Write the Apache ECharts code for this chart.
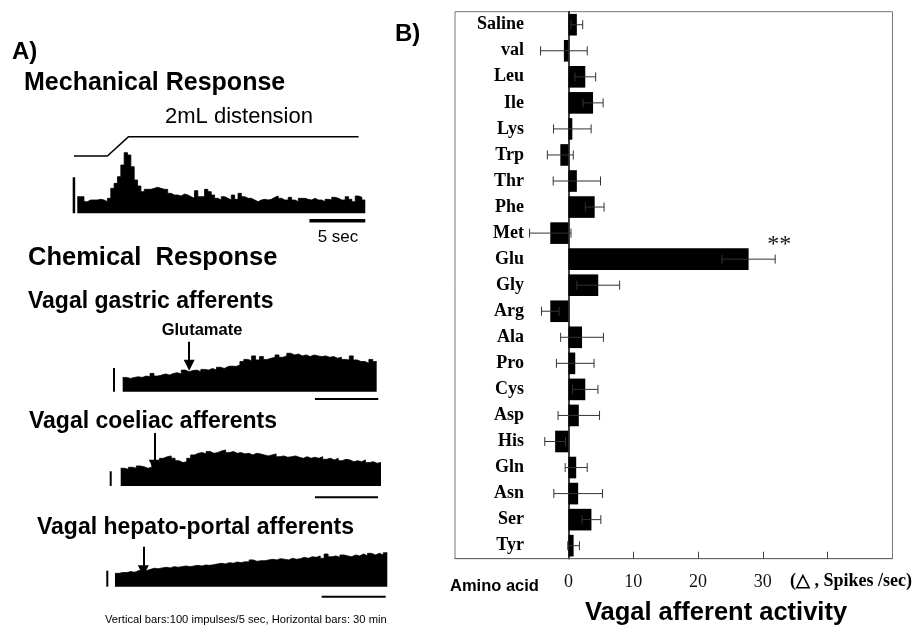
<!DOCTYPE html>
<html><head><meta charset="utf-8">
<script src="https://cdn.jsdelivr.net/npm/echarts@6/dist/echarts.min.js"></script>
<style>html,body{margin:0;padding:0;background:#fff}#c{width:920px;height:628px}</style>
</head><body><div id="c"></div><script>
// ---------- Panel B data ----------
const aminoAcids = ['Saline','val','Leu','Ile','Lys','Trp','Thr','Phe','Met','Glu','Gly','Arg','Ala','Pro','Cys','Asp','His','Gln','Asn','Ser','Tyr'];
const activityMean = [1.3,-0.7,2.6,3.8,0.6,-1.25,1.3,4.05,-2.8,27.8,4.6,-2.8,2.1,1.05,2.6,1.6,-2.05,1.2,1.5,3.55,0.8];
const activitySem  = [0.9,3.6,1.6,1.55,2.9,2.0,3.65,1.45,3.2,4.1,3.3,1.35,3.3,2.9,1.95,3.2,1.6,1.7,3.75,1.45,0.9];
const significance = ['','','','','','','','','','**','','','','','','','','','','',''];
const xTickValues = [10,20,30,40];
const xLabelValues = [0,10,20,30];

// ---------- Panel A data ----------
const mechBinSec = 0.3;
const mechCounts = [50,50,35,40,40,40,42,40,35,45,75,90,110,145,182,175,140,100,82,65,72,72,75,78,75,72,72,60,55,55,52,58,55,50,45,68,50,50,72,65,55,45,40,50,45,40,55,42,60,50,45,45,40,35,40,42,40,42,48,52,45,40,40,48,40,35,45,45,42,40,45,40,40,35,42,40,48,45,40,40,50,42,35,52,48,40];
const mechScaleCounts = 108;
const stimTime = [-0.3, 2.7, 4.6, 25.2];
const stimVolume = [0, 0, 2, 2];

const chemDtMin = 1.85;
const gastric = [60,56,60,63,60,66,63,77,66,70,75,70,77,80,75,91,84,89,91,84,94,91,98,91,103,98,106,108,106,113,127,136,131,151,134,148,136,141,145,155,145,151,162,155,159,151,155,148,155,151,148,151,145,148,141,145,136,134,151,134,127,127,120,136,127];
const coeliac = [120,113,127,120,136,131,120,127,150,165,188,199,204,188,172,159,165,188,211,222,227,218,234,222,227,238,245,227,234,222,227,218,222,211,222,218,211,204,211,218,199,204,195,199,204,195,188,199,188,195,188,199,181,188,177,188,172,181,177,165,172,165,177,159,165,154,160];
const hepato = [83,88,88,94,90,100,104,100,108,115,112,117,121,117,125,121,125,129,125,129,133,129,135,133,137,142,146,142,150,146,154,150,156,154,167,158,162,162,167,171,167,175,171,167,177,171,175,183,177,187,183,192,177,204,187,192,183,198,192,187,198,192,204,192,208,198,208,198,212];
const chemTraces = [gastric, coeliac, hepato];
const chemScaleImpulses = 100;      // vertical bars: 100 impulses / 5 sec
const chemScaleMinutes = 30;        // horizontal bars: 30 min
const chemVBarTime = [-4.1, -4.76, -3.6];
const chemHBarStart = [91.0, 92.5, 96.9];
const chemHBarLevel = [-31, -77, -62.5];
const chemArrowTime = [31.5, 16.0, 13.3];
const chemArrowFrom = [211, 360, 250];
const chemArrowTo = [112, 140, 100];

const SANS = '"Liberation Sans", Arial, Helvetica, sans-serif';
const SERIF = '"Liberation Serif", "Times New Roman", serif';

const chart = echarts.init(document.getElementById('c'), null, {renderer:'canvas'});

function stepData(vals, dt) {
  const d = vals.map((v, i) => [i * dt, v]);
  d.push([vals.length * dt, vals[vals.length - 1]]);
  return d;
}
function lineS(x, y, data, width) {
  return {type:'line', xAxisIndex:x, yAxisIndex:y, data, symbol:'none', silent:true,
    lineStyle:{color:'#000', width}, z:3};
}

const grids = [
  {left:71.7, top:130, width:295.8, height:95},
  {left:110.0, top:335, width:274.6, height:70},
  {left:106.0, top:428, width:279.3, height:74},
  {left:104.3, top:540, width:288.0, height:62},
  {left:455, top:11.7, width:437.5, height:547, show:true, borderColor:'#777', borderWidth:1}
];
const hid = {show:false};
const xAxes = [
  {gridIndex:0, type:'value', min:-0.5, max:26, show:false},
  {gridIndex:1, type:'value', min:-6, max:124, show:false},
  {gridIndex:2, type:'value', min:-7, max:126, show:false},
  {gridIndex:3, type:'value', min:-5, max:130, show:false},
  {gridIndex:4, type:'value', min:-17.5, max:50, splitLine:hid,
    axisLine:{show:true, onZero:false, lineStyle:{color:'#666', width:1}},
    axisTick:{show:true, inside:true, length:7, customValues:xTickValues, lineStyle:{color:'#444', width:1}},
    axisLabel:{customValues:xLabelValues, margin:15, fontFamily:SERIF, fontSize:18, color:'#111'}}
];
const yAxes = [
  {gridIndex:0, type:'value', min:-35, max:250, show:false},
  {gridIndex:0, type:'value', min:-7.15, max:2.69, show:false},
  {gridIndex:1, type:'value', min:-56, max:239, show:false},
  {gridIndex:2, type:'value', min:-109, max:394, show:false},
  {gridIndex:3, type:'value', min:-96, max:291.5, show:false},
  {gridIndex:4, type:'category', data:aminoAcids, inverse:true,
    axisLine:{show:true, onZero:true, lineStyle:{color:'#000', width:1.5}},
    axisTick:{show:false}, splitLine:hid,
    axisLabel:{margin:-69, fontFamily:SERIF, fontWeight:'bold', fontSize:18, color:'#000'}}
];

const series = [];
// Mechanical histogram
series.push({type:'line', xAxisIndex:0, yAxisIndex:0, step:'end', symbol:'none', silent:true,
  data:stepData(mechCounts, mechBinSec), lineStyle:{color:'#000', width:0.8}, areaStyle:{color:'#000', opacity:1}});
series.push(lineS(0,0,[[-0.3,0],[-0.3,mechScaleCounts]],2.5));
series.push(lineS(0,0,[[20.8,-22],[20.8+5,-22]],3.5));
series.push(lineS(0,1,stimTime.map((t,i)=>[t, stimVolume[i]]),1.5));

// Chemical traces
chemTraces.forEach((vals, k) => {
  const g = k + 1;
  series.push({type:'line', xAxisIndex:g, yAxisIndex:g+1, step:'end', symbol:'none', silent:true,
    data:stepData(vals, chemDtMin), lineStyle:{color:'#000', width:0.8}, areaStyle:{color:'#000', opacity:1},
    markLine:{silent:true, symbol:['none','triangle'], symbolSize:11, animation:false,
      lineStyle:{color:'#000', width:2, type:'solid'}, label:{show:false},
      data:[[{coord:[chemArrowTime[k], chemArrowFrom[k]]},{coord:[chemArrowTime[k], chemArrowTo[k]]}]]}});
  series.push(lineS(g, g+1, [[chemVBarTime[k],0],[chemVBarTime[k],chemScaleImpulses]], 2));
  series.push(lineS(g, g+1, [[chemHBarStart[k],chemHBarLevel[k]],[chemHBarStart[k]+chemScaleMinutes,chemHBarLevel[k]]], 2));
});

// Panel B bars
series.push({type:'bar', xAxisIndex:4, yAxisIndex:5, data:activityMean, barWidth:'83%',
  itemStyle:{color:'#000'}, silent:true, z:2});
series.push({type:'custom', xAxisIndex:4, yAxisIndex:5, silent:true, z:4,
  data:activityMean.map((v,i)=>[i, v, activitySem[i]]),
  encode:{x:1, y:0},
  renderItem:(params, api) => {
    const cat = api.value(0), v = api.value(1), e = api.value(2);
    const a = api.coord([v - e, cat]);
    const b = api.coord([v + e, cat]);
    const st = {stroke:'#333', lineWidth:1};
    const h = 4.5;
    const children = [
      {type:'line', shape:{x1:a[0], y1:a[1], x2:b[0], y2:b[1]}, style:st},
      {type:'line', shape:{x1:a[0], y1:a[1]-h, x2:a[0], y2:a[1]+h}, style:st},
      {type:'line', shape:{x1:b[0], y1:b[1]-h, x2:b[0], y2:b[1]+h}, style:st}
    ];
    const s = significance[params.dataIndex];
    if (s) children.push({type:'text', x:b[0]+4, y:b[1]-14,
      style:{text:s, fontFamily:SERIF, fontSize:24, fill:'#111', align:'center', verticalAlign:'middle'}});
    return {type:'group', children};
  }});

function txt(text, x, y, size, weight, family, align) {
  return {type:'text', x, y, silent:true,
    style:{text, fontSize:size, fontWeight:weight||'normal', fontFamily:family||SANS, fill:'#000',
      align:align||'left', verticalAlign:'middle'}};
}
const graphics = [
  txt('A)', 12, 52, 24, 'bold'),
  txt('Mechanical Response', 24, 83, 25, 'bold'),
  txt('2mL distension', 165, 117, 22, 'normal'),
  txt('5 sec', 338, 237, 17, 'normal', SANS, 'center'),
  txt('Chemical  Response', 28, 258, 25.5, 'bold'),
  txt('Vagal gastric afferents', 28, 302, 23, 'bold'),
  txt('Glutamate', 202, 330, 16.5, 'bold', SANS, 'center'),
  txt('Vagal coeliac afferents', 29, 422, 23, 'bold'),
  txt('Vagal hepato-portal afferents', 37, 528, 23, 'bold'),
  txt('Vertical bars:100 impulses/5 sec, Horizontal bars: 30 min', 105, 620, 11.2, 'normal'),
  txt('B)', 395, 34, 24, 'bold'),
  txt('Amino acid', 450, 586, 16.5, 'bold'),
  txt('(△ , Spikes /sec)', 790, 581, 18, 'bold', SERIF),
  txt('Vagal afferent activity', 716, 613, 25.5, 'bold', SANS, 'center')
];

chart.setOption({
  animation:false,
  backgroundColor:'#fff',
  grid:grids, xAxis:xAxes, yAxis:yAxes, series, graphic:graphics
});
</script></body></html>
